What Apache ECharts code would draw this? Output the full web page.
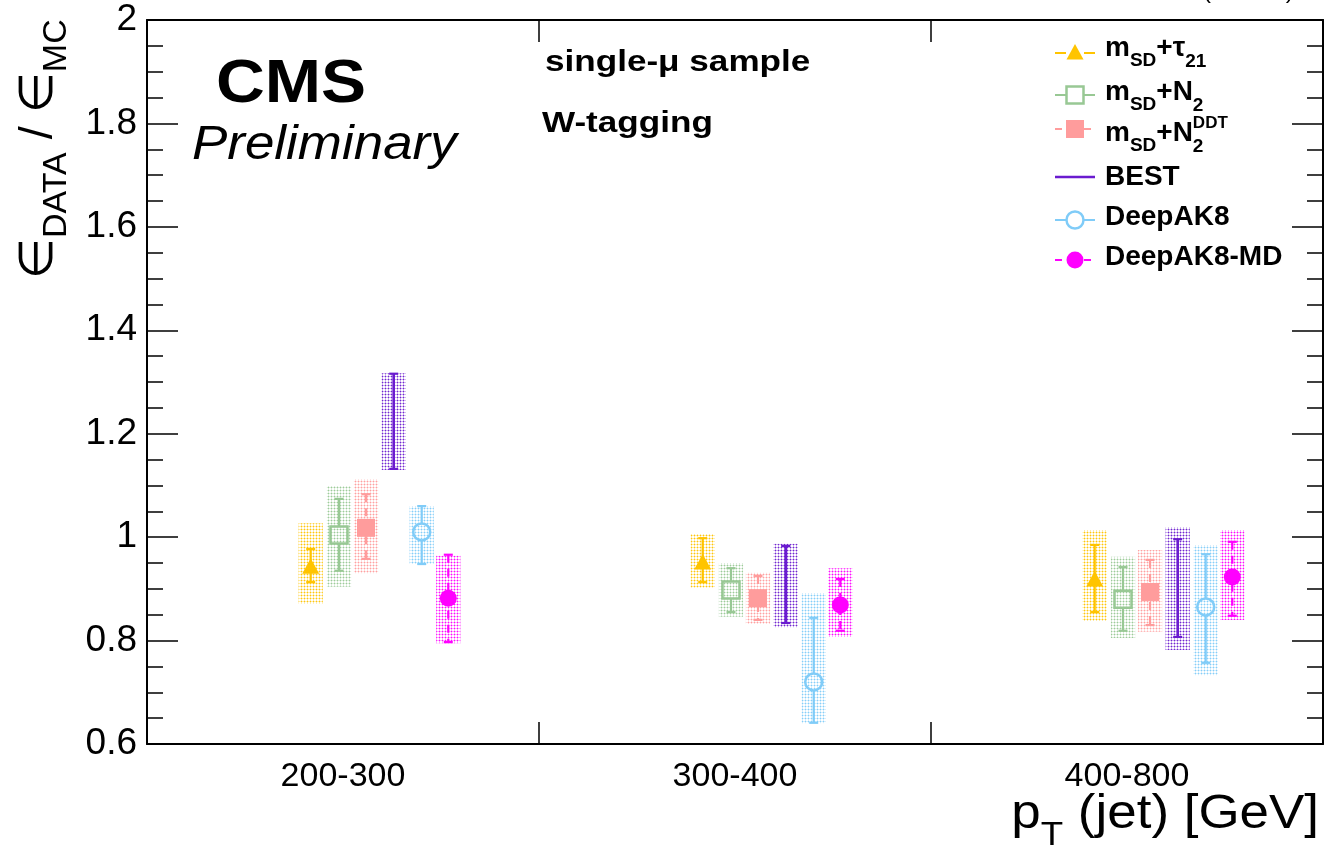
<!DOCTYPE html>
<html><head><meta charset="utf-8">
<script src="https://cdn.jsdelivr.net/npm/echarts@6/dist/echarts.min.js"></script>
<style>html,body{margin:0;padding:0;background:#fff}#c{width:1328px;height:857px}</style>
</head><body><div id="c"></div>
<script>
// ---------------- data ----------------
const categories = ['200-300', '300-400', '400-800'];
const yTicks = { min: 0.6, max: 2, interval: 0.2 };

const tau21_val  = [0.942, 0.950, 0.917];
const tau21_stat = [[0.913, 0.977], [0.913, 0.998], [0.855, 0.985]];
const tau21_syst = [[0.871, 1.027], [0.902, 1.006], [0.838, 1.014]];

const n2_val  = [1.004, 0.898, 0.880];
const n2_stat = [[0.935, 1.074], [0.855, 0.940], [0.819, 0.942]];
const n2_syst = [[0.904, 1.099], [0.846, 0.950], [0.805, 0.962]];

const n2ddt_val  = [1.018, 0.882, 0.894];
const n2ddt_stat = [[0.958, 1.083], [0.840, 0.925], [0.830, 0.956]];
const n2ddt_syst = [[0.930, 1.112], [0.832, 0.931], [0.817, 0.975]];

const best_val  = [1.222, 0.908, 0.902];
const best_stat = [[1.132, 1.316], [0.834, 0.983], [0.807, 0.996]];
const best_syst = [[1.130, 1.317], [0.826, 0.987], [0.782, 1.019]];

const deepak8_val  = [1.010, 0.720, 0.865];
const deepak8_stat = [[0.948, 1.060], [0.641, 0.844], [0.757, 0.967]];
const deepak8_syst = [[0.948, 1.060], [0.640, 0.892], [0.733, 0.985]];

const deepak8md_val  = [0.882, 0.869, 0.923];
const deepak8md_stat = [[0.797, 0.966], [0.819, 0.919], [0.848, 0.991]];
const deepak8md_syst = [[0.795, 0.964], [0.807, 0.940], [0.840, 1.014]];

// ---------------- styles ----------------
const FAM = '"Liberation Sans", Arial, Helvetica, sans-serif';
const defs = [
  { name: 'mSD+tau21', val: tau21_val, stat: tau21_stat, syst: tau21_syst, color: '#ffc400', marker: 'triangle', dashed: false, offset: -0.0824, lw: 2.2 },
  { name: 'mSD+N2', val: n2_val, stat: n2_stat, syst: n2_syst, color: '#98c894', marker: 'openSquare', dashed: false, offset: -0.0102, lw: 2.2 },
  { name: 'mSD+N2DDT', val: n2ddt_val, stat: n2ddt_stat, syst: n2ddt_syst, color: '#ff9c9c', marker: 'square', dashed: true, offset: 0.0587, lw: 2.2 },
  { name: 'BEST', val: best_val, stat: best_stat, syst: best_syst, color: '#6a1bcf', marker: 'none', dashed: false, offset: 0.1293, lw: 2.6 },
  { name: 'DeepAK8', val: deepak8_val, stat: deepak8_stat, syst: deepak8_syst, color: '#80ccf8', marker: 'openCircle', dashed: false, offset: 0.2008, lw: 2.2 },
  { name: 'DeepAK8-MD', val: deepak8md_val, stat: deepak8md_stat, syst: deepak8md_syst, color: '#ff00ff', marker: 'circle', dashed: true, offset: 0.2686, lw: 2.2 }
];

function makePattern(color) {
  const c = document.createElement('canvas'); c.width = 3; c.height = 3;
  const g = c.getContext('2d');
  g.fillStyle = color;
  g.globalAlpha = 0.95; g.fillRect(1, 1, 1, 1);
  g.globalAlpha = 0.35; g.fillRect(0, 1, 1, 1); g.fillRect(2, 1, 1, 1); g.fillRect(1, 0, 1, 1); g.fillRect(1, 2, 1, 1);
  return { image: c, repeat: 'repeat' };
}

function markerShape(kind, x, y, color, scale) {
  const s = scale || 1;
  if (kind === 'triangle') {
    return { type: 'polygon', shape: { points: [[x, y - 9 * s], [x - 8.5 * s, y + 6.5 * s], [x + 8.5 * s, y + 6.5 * s]] }, style: { fill: color } };
  } else if (kind === 'openSquare') {
    return { type: 'rect', shape: { x: x - 8.5 * s, y: y - 8.5 * s, width: 17 * s, height: 17 * s }, style: { fill: 'rgba(0,0,0,0)', stroke: color, lineWidth: 2.5 } };
  } else if (kind === 'square') {
    return { type: 'rect', shape: { x: x - 9 * s, y: y - 9 * s, width: 18 * s, height: 18 * s }, style: { fill: color } };
  } else if (kind === 'openCircle') {
    return { type: 'circle', shape: { cx: x, cy: y, r: 8.5 * s }, style: { fill: 'rgba(0,0,0,0)', stroke: color, lineWidth: 2.5 } };
  } else if (kind === 'circle') {
    return { type: 'circle', shape: { cx: x, cy: y, r: 8.5 * s }, style: { fill: color } };
  }
  return null;
}
const markerHalf = { triangle: 0, openSquare: 8.5, square: 0, openCircle: 8.5, circle: 0, none: 0 };

function makeRender(def) {
  const pat = makePattern(def.color);
  return function (params, api) {
    const ci = api.value(0);
    const band = api.size([1, 0])[0];
    const c = api.coord([ci, api.value(1)]);
    const x = c[0] + band * def.offset;
    const yv = c[1];
    const yOf = v => api.coord([ci, v])[1];
    const sLo = yOf(api.value(2)), sHi = yOf(api.value(3));
    const bLo = yOf(api.value(4)), bHi = yOf(api.value(5));
    const hw = band * 0.031;
    const ls = { stroke: def.color, lineWidth: def.lw, lineDash: def.dashed ? [8, 6] : null };
    const ch = [];
    ch.push({ type: 'rect', shape: { x: x - hw, y: bHi, width: 2 * hw, height: bLo - bHi }, style: { fill: pat } });
    const mh = markerHalf[def.marker];
    if (mh > 0) {
      ch.push({ type: 'line', shape: { x1: x, y1: sHi, x2: x, y2: yv - mh }, style: ls });
      ch.push({ type: 'line', shape: { x1: x, y1: yv + mh, x2: x, y2: sLo }, style: ls });
    } else {
      ch.push({ type: 'line', shape: { x1: x, y1: sHi, x2: x, y2: sLo }, style: ls });
    }
    const cw = 4.5;
    ch.push({ type: 'line', shape: { x1: x - cw, y1: sHi, x2: x + cw, y2: sHi }, style: { stroke: def.color, lineWidth: 2.2 } });
    ch.push({ type: 'line', shape: { x1: x - cw, y1: sLo, x2: x + cw, y2: sLo }, style: { stroke: def.color, lineWidth: 2.2 } });
    const m = markerShape(def.marker, x, yv, def.color);
    if (m) ch.push(m);
    return { type: 'group', children: ch };
  };
}

// ---------------- text helper ----------------
const mctx = document.createElement('canvas').getContext('2d');
function tw(t, size, weight, fstyle) {
  mctx.font = `${fstyle} ${weight} ${size}px ${FAM}`;
  return mctx.measureText(t).width;
}
function textRun(pieces, opts) {
  let x = 0; const els = [];
  pieces.forEach(p => {
    const list = p.stack || [p];
    let w = 0;
    list.forEach(q => {
      const weight = q.weight || opts.weight || 'normal';
      const fstyle = q.style || opts.style || 'normal';
      els.push({
        type: 'text', x: x, y: (q.dy || 0) - 0.35 * q.size, silent: true,
        style: { text: q.t, fontSize: q.size, fontFamily: FAM, fontWeight: weight, fontStyle: fstyle,
                 fill: opts.color || '#000', align: 'left', verticalAlign: 'middle', textAlign: 'left', textVerticalAlign: 'middle' }
      });
      w = Math.max(w, tw(q.t, q.size, weight, fstyle));
    });
    x += w;
  });
  return { els, width: x };
}
function textGroup(pieces, opts, x, y, extra) {
  const r = textRun(pieces, opts);
  return Object.assign({ type: 'group', x: x, y: y, children: r.els, silent: true }, extra || {});
}

// ---------------- graphics ----------------
const graphics = [];
graphics.push(textGroup([{ t: 'CMS', size: 62 }], { weight: 'bold' }, 216, 107, { scaleX: 1.09 }));
graphics.push(textGroup([{ t: 'Preliminary', size: 49 }], { style: 'italic' }, 192, 163, { scaleX: 1.08 }));
graphics.push(textGroup([{ t: 'single-μ sample', size: 30 }], { weight: 'bold' }, 545, 73, { scaleX: 1.17 }));
graphics.push(textGroup([{ t: 'W-tagging', size: 30 }], { weight: 'bold' }, 542, 134, { scaleX: 1.17 }));
graphics.push(textGroup([{ t: '(13 TeV)', size: 24 }], { weight: 'normal' }, 1203, 0, {}));

// y-axis title (rotated)
graphics.push(textGroup([
  { t: '∈', size: 47 }, { t: 'DATA', size: 34, dy: 14 }, { t: ' / ', size: 47 }, { t: '∈', size: 47 }, { t: 'MC', size: 34, dy: 14 }
], {}, 55, 279, { rotation: Math.PI / 2 }));

// x-axis title, right aligned
(function () {
  const pieces = [{ t: 'p', size: 49 }, { t: 'T', size: 34, dy: 16 }, { t: ' (jet) [GeV]', size: 49 }];
  const r = textRun(pieces, {});
  const sx = 1.08;
  graphics.push({ type: 'group', x: 1319 - r.width * sx, y: 832, scaleX: sx, children: r.els, silent: true });
})();

// legend
const legendLabels = [
  [{ t: 'm', size: 28 }, { t: 'SD', size: 19, dy: 9 }, { t: '+τ', size: 28 }, { t: '21', size: 19, dy: 10 }],
  [{ t: 'm', size: 28 }, { t: 'SD', size: 19, dy: 9 }, { t: '+N', size: 28 }, { t: '2', size: 19, dy: 10 }],
  [{ t: 'm', size: 28 }, { t: 'SD', size: 19, dy: 9 }, { t: '+N', size: 28 }, { stack: [{ t: '2', size: 19, dy: 10 }, { t: 'DDT', size: 17, dy: -14 }] }],
  [{ t: 'BEST', size: 28 }],
  [{ t: 'DeepAK8', size: 28 }],
  [{ t: 'DeepAK8-MD', size: 28 }]
];
const legBase = [58, 102, 143, 187, 227, 267];
const legMark = [53, 95, 129, 177, 220, 260];
defs.forEach((d, i) => {
  const ym = legMark[i];
  const ls = { stroke: d.color, lineWidth: d.marker === 'none' ? 2.5 : 2, lineDash: d.dashed ? [7, 6] : null };
  const mh = d.marker === 'none' ? 0 : 9;
  if (mh > 0) {
    graphics.push({ type: 'line', silent: true, shape: { x1: 1055, y1: ym, x2: 1075 - mh, y2: ym }, style: ls });
    graphics.push({ type: 'line', silent: true, shape: { x1: 1075 + mh, y1: ym, x2: 1095, y2: ym }, style: ls });
    const m = markerShape(d.marker, 1075, ym, d.color);
    m.silent = true;
    graphics.push(m);
  } else {
    graphics.push({ type: 'line', silent: true, shape: { x1: 1055, y1: ym, x2: 1095, y2: ym }, style: ls });
  }
  graphics.push(textGroup(legendLabels[i], { weight: 'bold' }, 1105, legBase[i]));
});

// ---------------- chart ----------------
const chart = echarts.init(document.getElementById('c'), null, { renderer: 'canvas' });
const axisLine = { show: true, onZero: false, lineStyle: { color: '#000', width: 2 } };
const option = {
  animation: false,
  backgroundColor: '#fff',
  grid: { left: 147, right: 5, top: 20, bottom: 113, containLabel: false },
  xAxis: [
    { type: 'category', data: categories, position: 'bottom', boundaryGap: true,
      axisLine: axisLine, axisTick: { show: true, inside: true, length: 22, lineStyle: { color: '#000', width: 1.5 } },
      axisLabel: { show: true, color: '#000', fontFamily: FAM, fontSize: 34, margin: 16 }, splitLine: { show: false } },
    { type: 'category', data: categories, position: 'top', boundaryGap: true,
      axisLine: axisLine, axisTick: { show: true, inside: true, length: 22, lineStyle: { color: '#000', width: 1.5 } },
      axisLabel: { show: false }, splitLine: { show: false } }
  ],
  yAxis: [
    { type: 'value', min: yTicks.min, max: yTicks.max, interval: yTicks.interval, position: 'left',
      axisLine: axisLine, axisTick: { show: true, inside: true, length: 31, lineStyle: { color: '#000', width: 1.5 } },
      minorTick: { show: true, splitNumber: 4, length: 16, lineStyle: { color: '#000', width: 1.5 } },
      axisLabel: { show: true, color: '#000', fontFamily: FAM, fontSize: 37, margin: 10 }, splitLine: { show: false } },
    { type: 'value', min: yTicks.min, max: yTicks.max, interval: yTicks.interval, position: 'right',
      axisLine: axisLine, axisTick: { show: true, inside: true, length: 31, lineStyle: { color: '#000', width: 1.5 } },
      minorTick: { show: true, splitNumber: 4, length: 16, lineStyle: { color: '#000', width: 1.5 } },
      axisLabel: { show: false }, splitLine: { show: false } }
  ],
  series: defs.map(d => ({
    type: 'custom', name: d.name, xAxisIndex: 0, yAxisIndex: 0, silent: true,
    renderItem: makeRender(d),
    encode: { x: 0, y: 1 },
    data: categories.map((c, i) => [i, d.val[i], d.stat[i][0], d.stat[i][1], d.syst[i][0], d.syst[i][1]])
  })),
  graphic: graphics
};
chart.setOption(option);
</script>
</body></html>
